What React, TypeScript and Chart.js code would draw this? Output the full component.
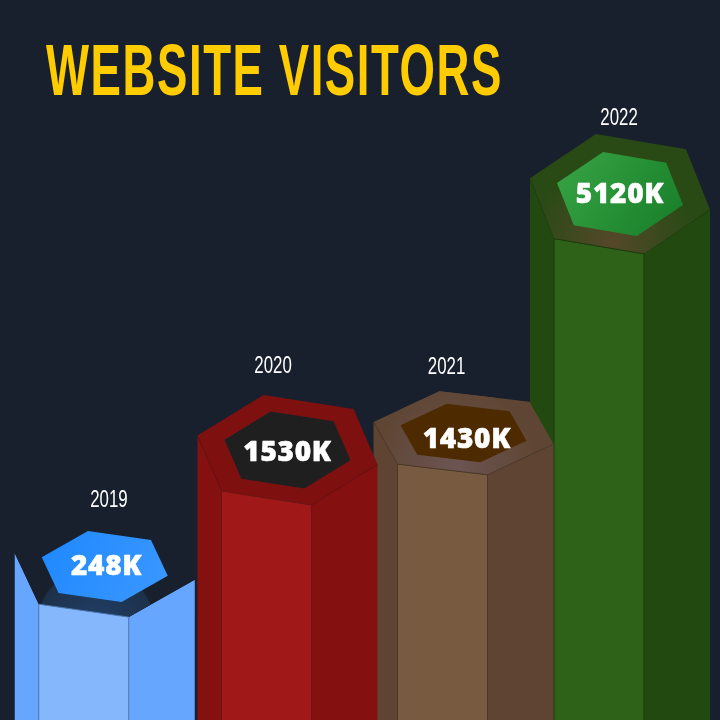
import React, { useEffect, useRef } from "react";
import { Chart, registerables } from "chart.js";

Chart.register(...registerables);

// ---- data ----
const years = ["2019", "2020", "2021", "2022"];
const visitorLabels = ["248K", "1530K", "1430K", "5120K"];
const columnHeights = [153.5, 270, 287, 526];
const titleText = "WEBSITE VISITORS";

// ---- styling of each column ----
const xNudge = [-5.25, 5.5, 9.5, -6];
const tilt = [0.92, 1, 0.76, 1.09];
const yearOffset = [[4.2, -67.5], [-14.5, -85.5], [-17, -67.5], [-1, -77.5]];
const valueOffset = [[1.8, -1.5], [0, 1], [3.4, 4.5], [0, -1]];
const frontColors = ["#85b7fc", "#a01818", "#775a3f", "#2e6218"];
const sideColors = ["#66a6ff", "#851010", "#5f4433", "#224a10"];
const edgeColors = ["#4f7db5", "#6e1414", "#4c3729", "#1b3a0d"];
const ringEdgeColors = ["#4f7db5", "rgba(90,16,16,0.6)", "rgba(70,50,38,0.6)", "rgba(27,58,13,0.5)"];
const ringColors = ["#18202d", "#7f1010", "#5f4634", "#2a4a15"];
const glowColors = ["#21406a", "#7f1010", "#6c5453", "#55482a"];
const innerFrom = ["#1e88ff", "#1f1f1f", "#4d2a00", "#38a545"];
const innerTo = ["#3c98ff", "#1f1f1f", "#4d2a00", "#167d28"];
const BG = "#18202d";

const hexOuter = (k: number) => [
  [90, 14.5 * k],
  [24, 55 * k],
  [-66, 41 * k],
  [-90, -14.5 * k],
  [-24, -55 * k],
  [66, -41 * k],
];

const poly = (ctx: CanvasRenderingContext2D, pts: number[][]) => {
  ctx.beginPath();
  pts.forEach((p, i) => (i ? ctx.lineTo(p[0], p[1]) : ctx.moveTo(p[0], p[1])));
  ctx.closePath();
};

const fitText = (
  ctx: CanvasRenderingContext2D,
  text: string,
  font: string,
  color: string,
  x: number,
  y: number,
  width: number,
  align: "left" | "center",
  spacing = "0px"
) => {
  ctx.save();
  ctx.font = font;
  (ctx as any).letterSpacing = spacing;
  ctx.fillStyle = color;
  ctx.textAlign = "left";
  ctx.textBaseline = "alphabetic";
  const w = ctx.measureText(text).width;
  const sx = width / w;
  ctx.translate(align === "center" ? x - width / 2 : x, y);
  ctx.scale(sx, 1);
  ctx.fillText(text, 0, 0);
  ctx.restore();
};

const hexColumns = {
  id: "hexColumns",
  afterDatasetsDraw(chart: any) {
    const ctx: CanvasRenderingContext2D = chart.ctx;
    const bottom = chart.chartArea.bottom;
    const meta = chart.getDatasetMeta(0);
    ctx.save();
    for (let i = meta.data.length - 1; i >= 0; i--) {
      const el = meta.data[i];
      const cx = el.x + xNudge[i];
      const cy = el.y;
      const o = hexOuter(tilt[i]).map((p) => [cx + p[0], cy + p[1]]);
      const inner = hexOuter(tilt[i]).map((p) => [cx + p[0] * 0.7, cy + p[1] * 0.7]);
      const [right, frontR, frontL, left] = o;

      // side and front faces
      ctx.fillStyle = sideColors[i];
      poly(ctx, [left, frontL, [frontL[0], bottom], [left[0], bottom]]);
      ctx.fill();
      poly(ctx, [frontR, right, [right[0], bottom], [frontR[0], bottom]]);
      ctx.fill();
      ctx.fillStyle = frontColors[i];
      poly(ctx, [frontL, frontR, [frontR[0], bottom], [frontL[0], bottom]]);
      ctx.fill();

      // top ring with its soft glow near the front
      ctx.fillStyle = ringColors[i];
      poly(ctx, o);
      ctx.fill();
      ctx.save();
      poly(ctx, o);
      ctx.clip();
      const disc = i === 0;
      const gx = cx - (disc ? 9 : 8);
      const gy = cy + (disc ? 60 : 45 * tilt[i]);
      const gr = disc ? 59 : 80;
      const glow = ctx.createRadialGradient(gx, gy, 0, gx, gy, gr);
      glow.addColorStop(0, glowColors[i]);
      glow.addColorStop(1, disc ? "#1d3048" : ringColors[i]);
      ctx.fillStyle = glow;
      ctx.beginPath();
      ctx.arc(gx, gy, gr, 0, Math.PI * 2);
      ctx.fill();
      ctx.restore();

      // thin edges between the faces
      ctx.lineWidth = 1;
      ctx.strokeStyle = edgeColors[i];
      ctx.beginPath();
      ctx.moveTo(frontL[0], bottom);
      ctx.lineTo(frontL[0], frontL[1]);
      ctx.lineTo(frontR[0], frontR[1]);
      ctx.lineTo(frontR[0], bottom);
      ctx.stroke();
      if (i > 0) {
        ctx.strokeStyle = ringEdgeColors[i];
        ctx.beginPath();
        ctx.moveTo(left[0], left[1]);
        ctx.lineTo(frontL[0], frontL[1]);
        ctx.moveTo(frontR[0], frontR[1]);
        ctx.lineTo(right[0], right[1]);
        ctx.stroke();
      }

      // top inner hexagon
      const grad = ctx.createLinearGradient(inner[3][0], inner[4][1], inner[0][0], inner[1][1]);
      grad.addColorStop(0, innerFrom[i]);
      grad.addColorStop(1, innerTo[i]);
      ctx.fillStyle = grad;
      poly(ctx, inner);
      ctx.fill();

      // labels
      fitText(
        ctx,
        years[i],
        "23px 'Liberation Sans Narrow', 'Liberation Sans'",
        "#ffffff",
        cx + yearOffset[i][0],
        cy + yearOffset[i][1] + 8,
        37.5,
        "center"
      );
      ctx.save();
      ctx.font = "800 28px 'Open Sans', 'Noto Sans', sans-serif";
      (ctx as any).letterSpacing = "0.7px";
      ctx.fillStyle = "#ffffff";
      ctx.strokeStyle = "#ffffff";
      ctx.lineWidth = 0.5;
      ctx.lineJoin = "round";
      ctx.textAlign = "center";
      ctx.textBaseline = "alphabetic";
      const vx = cx + valueOffset[i][0];
      const vy = cy + valueOffset[i][1] + 10;
      ctx.fillText(visitorLabels[i], vx, vy);
      ctx.strokeText(visitorLabels[i], vx, vy);
      ctx.restore();
    }
    ctx.restore();

    fitText(
      ctx,
      titleText,
      "bold 73px 'Liberation Sans Narrow', 'Liberation Sans'",
      "#ffcc00",
      46,
      95,
      457,
      "left",
      "2.5px"
    );
  },
};

export default function App() {
  const ref = useRef<HTMLCanvasElement>(null);
  useEffect(() => {
    document.body.style.margin = "0";
    document.body.style.background = BG;
    const chart = new Chart(ref.current!, {
      type: "bar",
      data: {
        labels: years,
        datasets: [{ label: "Website visitors", data: columnHeights, backgroundColor: "transparent" }],
      },
      options: {
        animation: false,
        responsive: false,
        devicePixelRatio: 1,
        layout: { padding: { left: 24, right: 8, top: 0, bottom: 0 } },
        plugins: { legend: { display: false }, title: { display: false }, tooltip: { enabled: false } },
        scales: {
          x: { display: false },
          y: { display: false, min: 0, max: 720 },
        },
      },
      plugins: [hexColumns],
    } as any);
    return () => chart.destroy();
  }, []);
  return (
    <canvas
      ref={ref}
      width={720}
      height={720}
      style={{ display: "block", width: 720, height: 720, background: BG }}
    />
  );
}
